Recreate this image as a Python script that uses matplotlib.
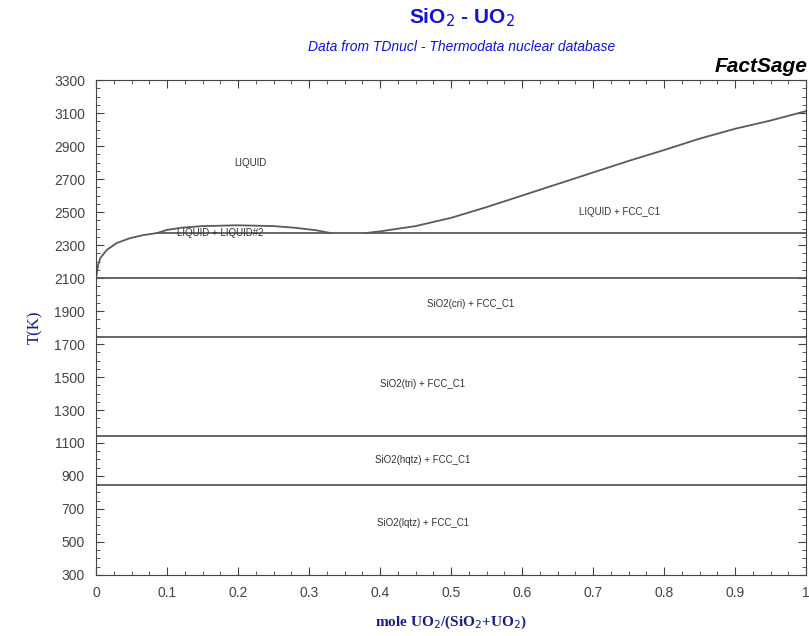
import matplotlib
matplotlib.use('Agg')
import matplotlib.pyplot as plt
from matplotlib.ticker import MultipleLocator

# liquidus, SiO2-rich side
liq_left_x = [0.0, 0.003, 0.006, 0.015, 0.029, 0.048, 0.066, 0.086]
liq_left_t = [2100, 2180, 2221, 2270, 2312, 2342, 2360, 2373]

# miscibility gap dome
gap_x = [0.086, 0.10, 0.12, 0.15, 0.20, 0.25, 0.28, 0.31, 0.33]
gap_t = [2373, 2392, 2405, 2415, 2420, 2415, 2405, 2390, 2373]

# liquidus, UO2-rich side
liq_right_x = [0.38, 0.40, 0.45, 0.50, 0.55, 0.60, 0.65, 0.70, 0.75, 0.80, 0.85, 0.90, 0.95, 1.0]
liq_right_t = [2373, 2383, 2415, 2465, 2530, 2600, 2670, 2740, 2810, 2876, 2945, 3005, 3055, 3112]

# invariant lines
inv_t = [2100, 1740, 1140, 848]
mono_t = 2373

labels = ['LIQUID', 'LIQUID + LIQUID#2', 'LIQUID + FCC_C1', 'SiO2(cri) + FCC_C1',
          'SiO2(tri) + FCC_C1', 'SiO2(hqtz) + FCC_C1', 'SiO2(lqtz) + FCC_C1']
label_x = [0.217, 0.175, 0.738, 0.527, 0.46, 0.46, 0.46]
label_t = [2797, 2373, 2500, 1943, 1458, 997, 615]

xticks = [0, 0.1, 0.2, 0.3, 0.4, 0.5, 0.6, 0.7, 0.8, 0.9, 1.0]
xticklabels = ['0', '0.1', '0.2', '0.3', '0.4', '0.5', '0.6', '0.7', '0.8', '0.9', '1']

fig = plt.figure(figsize=(8.09, 6.36), dpi=100)
ax = fig.add_axes([0.1187, 0.096, 0.8776, 0.778])

lc = '#5a5a5a'
ax.plot(liq_left_x, liq_left_t, color=lc, lw=1.3)
ax.plot(gap_x, gap_t, color=lc, lw=1.3)
ax.plot(liq_right_x, liq_right_t, color=lc, lw=1.3)
ax.plot([0.086, 1.0], [mono_t, mono_t], color=lc, lw=1.3)
for t in inv_t:
    ax.plot([0, 1], [t, t], color=lc, lw=1.3)

for s, x, t in zip(labels, label_x, label_t):
    ax.text(x, t, s, fontsize=7, color='#333333', ha='center', va='center',
            family='Liberation Sans')

ax.set_xlim(0, 1)
ax.set_ylim(300, 3300)
ax.set_xticks(xticks)
ax.set_xticklabels(xticklabels)
ax.xaxis.set_minor_locator(MultipleLocator(0.025))
ax.set_yticks(range(300, 3301, 200))
ax.yaxis.set_minor_locator(MultipleLocator(50))
ax.tick_params(which='both', direction='in', top=True, right=True, color='#444444')
ax.tick_params(which='major', length=6, labelsize=10, labelcolor='#444444', pad=8)
ax.tick_params(which='minor', length=3)
for lab in ax.get_xticklabels() + ax.get_yticklabels():
    lab.set_family('Liberation Sans')
for sp in ax.spines.values():
    sp.set_color('#444444')

ax.set_xlabel('mole UO$_2$/(SiO$_2$+UO$_2$)', family='Liberation Serif', fontweight='bold',
              color='#1a1a8c', fontsize=11, labelpad=10)
ax.set_ylabel('T(K)', family='Liberation Serif', color='#1a1a8c', fontsize=12, labelpad=8)

fig.text(0.571, 0.972, 'SiO$_2$ - UO$_2$', ha='center', va='center', color='#1010e0',
         fontsize=15, fontweight='bold', family='Liberation Sans')
fig.text(0.571, 0.926, 'Data from TDnucl - Thermodata nuclear database', ha='center',
         va='center', color='#1010e0', fontsize=10, style='italic', family='Liberation Sans')
fig.text(0.998, 0.896, 'FactSage', ha='right', va='center', color='black', fontsize=15,
         fontweight='bold', style='italic', family='Liberation Sans')

fig.savefig('out.png', dpi=100)
